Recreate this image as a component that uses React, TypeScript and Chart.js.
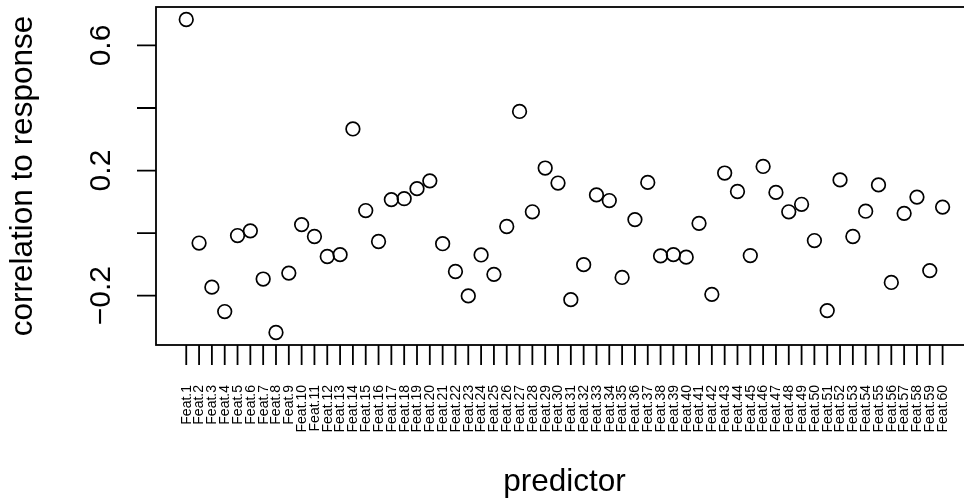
import { useEffect, useRef } from "react";
import { Chart, registerables } from "chart.js";

Chart.register(...registerables);

const categories = [
  "Feat.1", "Feat.2", "Feat.3", "Feat.4", "Feat.5", "Feat.6", "Feat.7", "Feat.8", "Feat.9", "Feat.10",
  "Feat.11", "Feat.12", "Feat.13", "Feat.14", "Feat.15", "Feat.16", "Feat.17", "Feat.18", "Feat.19", "Feat.20",
  "Feat.21", "Feat.22", "Feat.23", "Feat.24", "Feat.25", "Feat.26", "Feat.27", "Feat.28", "Feat.29", "Feat.30",
  "Feat.31", "Feat.32", "Feat.33", "Feat.34", "Feat.35", "Feat.36", "Feat.37", "Feat.38", "Feat.39", "Feat.40",
  "Feat.41", "Feat.42", "Feat.43", "Feat.44", "Feat.45", "Feat.46", "Feat.47", "Feat.48", "Feat.49", "Feat.50",
  "Feat.51", "Feat.52", "Feat.53", "Feat.54", "Feat.55", "Feat.56", "Feat.57", "Feat.58", "Feat.59", "Feat.60",
];

const correlations = [
  0.683, -0.032, -0.173, -0.251, -0.008, 0.007, -0.147, -0.318, -0.128, 0.027,
  -0.011, -0.075, -0.069, 0.333, 0.072, -0.027, 0.107, 0.110, 0.142, 0.167,
  -0.034, -0.123, -0.201, -0.070, -0.132, 0.021, 0.389, 0.068, 0.208, 0.160,
  -0.213, -0.101, 0.122, 0.104, -0.142, 0.043, 0.162, -0.073, -0.069, -0.077,
  0.031, -0.196, 0.192, 0.133, -0.072, 0.213, 0.130, 0.068, 0.092, -0.024,
  -0.248, 0.170, -0.011, 0.070, 0.154, -0.158, 0.063, 0.115, -0.120, 0.083,
];

const yTickValues = [-0.2, 0, 0.2, 0.4, 0.6];
const yLabelValues = [-0.2, 0.2, 0.6];
const yLabelTexts = ["\u22120.2", "0.2", "0.6"];
const xTitle = "predictor";
const yTitle = "correlation to response";

const FONT = '"Liberation Sans", Arial, Helvetica, sans-serif';

const rAxesPlugin = {
  id: "rAxes",
  afterDraw(chart: any) {
    const { ctx, chartArea, scales } = chart;
    const xs = scales.x;
    const ys = scales.y;
    const left = chartArea.left;
    const top = chartArea.top;
    const bottom = chartArea.bottom;
    const boxRight = xs.getPixelForValue(62.36);
    ctx.save();
    ctx.strokeStyle = "#000";
    ctx.fillStyle = "#000";
    ctx.lineWidth = 1.8;
    ctx.lineCap = "butt";
    ctx.strokeRect(left, top, boxRight - left, bottom - top);

    // y ticks
    ctx.beginPath();
    for (const v of yTickValues) {
      const py = ys.getPixelForValue(v);
      ctx.moveTo(left, py);
      ctx.lineTo(left - 19, py);
    }
    ctx.stroke();

    // y labels (parallel to axis)
    ctx.font = `30px ${FONT}`;
    ctx.textAlign = "center";
    ctx.textBaseline = "alphabetic";
    yLabelValues.forEach((v, i) => {
      const py = ys.getPixelForValue(v);
      ctx.save();
      ctx.translate(left - 46, py);
      ctx.rotate(-Math.PI / 2);
      ctx.fillText(yLabelTexts[i], 0, 0);
      ctx.restore();
    });

    // x ticks
    ctx.beginPath();
    categories.forEach((_, i) => {
      const px = xs.getPixelForValue(i + 1);
      ctx.moveTo(px, bottom);
      ctx.lineTo(px, bottom + 20);
    });
    ctx.stroke();

    // x labels (perpendicular)
    ctx.font = `14px ${FONT}`;
    ctx.textAlign = "right";
    ctx.textBaseline = "middle";
    categories.forEach((c, i) => {
      const px = xs.getPixelForValue(i + 1);
      ctx.save();
      ctx.translate(px + 0.5, bottom + 40);
      ctx.rotate(-Math.PI / 2);
      ctx.fillText(c, 0, 0);
      ctx.restore();
    });

    // titles
    ctx.font = `31.5px ${FONT}`;
    ctx.textAlign = "center";
    ctx.textBaseline = "alphabetic";
    ctx.fillText(xTitle, (left + boxRight) / 2, 491);
    ctx.save();
    ctx.translate(32, (top + bottom) / 2);
    ctx.rotate(-Math.PI / 2);
    ctx.fillText(yTitle, 0, 0);
    ctx.restore();

    ctx.restore();
  },
};

export default function App() {
  const canvasRef = useRef<HTMLCanvasElement | null>(null);

  useEffect(() => {
    if (!canvasRef.current) return;
    const chart = new Chart(canvasRef.current, {
      type: "scatter",
      data: {
        datasets: [
          {
            label: "correlation",
            data: correlations.map((v, i) => ({ x: i + 1, y: v })),
            showLine: false,
            pointStyle: "circle",
            pointRadius: 6.8,
            pointHoverRadius: 6.8,
            pointBorderWidth: 1.7,
            pointBorderColor: "#000",
            pointBackgroundColor: "rgba(0,0,0,0)",
            clip: false,
          } as any,
        ],
      },
      options: {
        animation: false,
        responsive: false,
        devicePixelRatio: 1,
        events: [],
        layout: { autoPadding: false, padding: { left: 156, top: 7, right: 0, bottom: 153 } },
        plugins: { legend: { display: false }, tooltip: { enabled: false } },
        scales: {
          x: { type: "linear", display: false, min: -1.36, max: 61.67 },
          y: { type: "linear", display: false, min: -0.358, max: 0.723 },
        },
      },
      plugins: [rAxesPlugin],
    });
    return () => chart.destroy();
  }, []);

  return (
    <div style={{ position: "absolute", left: 0, top: 0, width: 964, height: 498, background: "#fff" }}>
      <canvas ref={canvasRef} width={964} height={498} style={{ display: "block" }} />
    </div>
  );
}
